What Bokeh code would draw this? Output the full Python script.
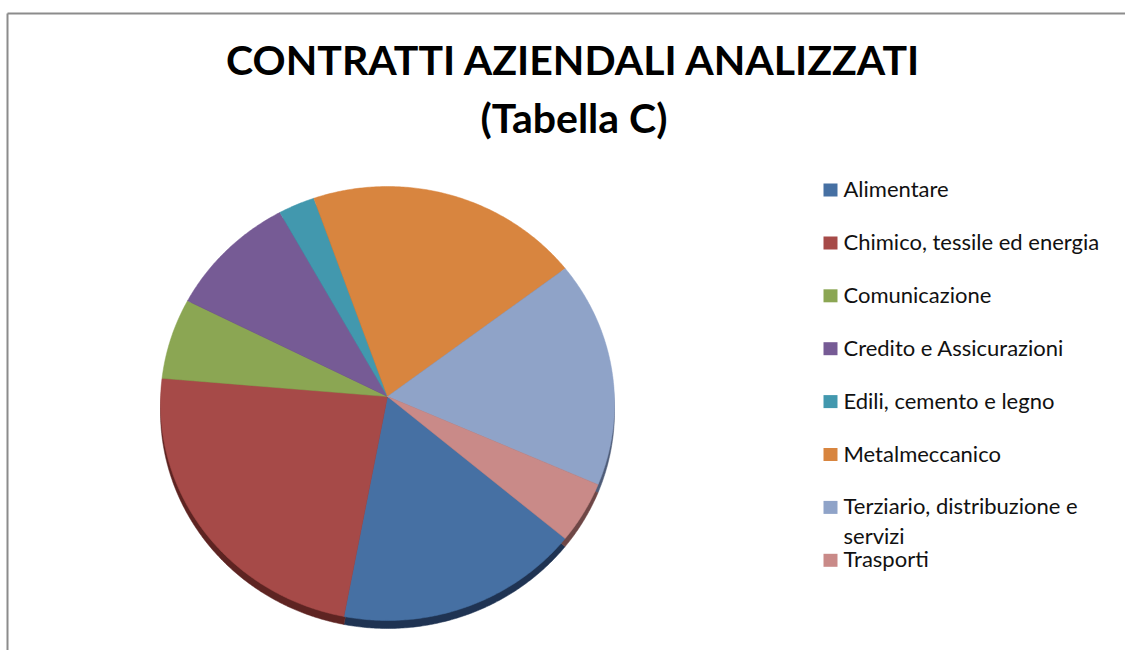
import numpy as np
from bokeh.plotting import figure
from bokeh.models import Range1d, ColumnDataSource
from bokeh.core.properties import value
from bokeh.embed import file_html
from bokeh.resources import INLINE

# ---- data ----
categories = ["Alimentare", "Chimico, tessile ed energia", "Comunicazione",
              "Credito e Assicurazioni", "Edili, cemento e legno", "Metalmeccanico",
              "Terziario, distribuzione e servizi", "Trasporti"]
values = [17.4, 23.8, 6.0, 9.3, 2.6, 19.6, 16.8, 4.6]
legend_lines = [["Alimentare"], ["Chimico, tessile  ed  energia"], ["Comunicazione"],
                ["Credito e Assicurazioni"], ["Edili, cemento e legno"], ["Metalmeccanico"],
                ["Terziario, distribuzione  e", "servizi"], ["Trasporti"]]
title_lines = ["CONTRATTI AZIENDALI ANALIZZATI", "(Tabella C)"]

# ---- style ----
face_colors = ["#4670A3", "#A64A48", "#8BA653", "#765B95", "#4298AE", "#D8853F", "#8FA3C8", "#C98A88"]
side_colors = ["#1F3352", "#5E2422", "#4A5C2A", "#3E2F52", "#1F5261", "#7A4620", "#4E5C78", "#6E4746"]

W, H = 1125, 650
p = figure(width=W, height=H, output_backend="svg", toolbar_location=None,
           x_range=Range1d(0, W), y_range=Range1d(H, 0), min_border=0)
p.axis.visible = False
p.grid.visible = False
p.outline_line_color = None
p.background_fill_color = "white"

# border of chart area
p.line(x=[7, 7], y=[H, 13], line_color="#8C8C8C", line_width=2)
p.line(x=[7, W], y=[13, 13], line_color="#8C8C8C", line_width=2)

# pie geometry (pixel-like coordinates)
cx, cy = 387.0, 403.0      # ellipse centre
ax_, ay_ = 387.0, 396.0    # apex where slices meet
rx, ry = 227.0, 217.0
depth = 8.0
start = 38.5  # degrees, screen clockwise from east

vals = np.array(values, dtype=float)
ang = np.concatenate([[0.0], np.cumsum(vals / vals.sum() * 360.0)]) + start

def slice_shape(a0, a1, dy=0.0):
    t = np.radians(np.linspace(a0, a1, max(int(abs(a1 - a0)) * 2 + 2, 4)))
    xs = [ax_] + list(cx + rx * np.cos(t)) + [ax_]
    ys = [ay_ + dy] + list(cy + dy + ry * np.sin(t)) + [ay_ + dy]
    return xs, ys

side_xs, side_ys, top_xs, top_ys = [], [], [], []
for i in range(len(vals)):
    xs, ys = slice_shape(ang[i], ang[i + 1], depth)
    side_xs.append(xs); side_ys.append(ys)
    xs, ys = slice_shape(ang[i], ang[i + 1])
    top_xs.append(xs); top_ys.append(ys)

p.patches(xs="xs", ys="ys", fill_color="c", line_color="c", line_width=0.5,
          source=ColumnDataSource(dict(xs=side_xs, ys=side_ys, c=side_colors)))
p.patches(xs="xs", ys="ys", fill_color="c", line_color="c", line_width=0.5,
          source=ColumnDataSource(dict(xs=top_xs, ys=top_ys, c=face_colors)))

# title
p.text(x=[573.5, 573.5], y=[59, 117], text=title_lines, text_align="center",
       text_baseline="alphabetic", text_font=value("Lato"), text_font_style="bold",
       text_font_size="41px", text_color="black")

# legend
row0, row_step = 189.5, 52.9
sq_x, txt_x = 830.0, 843.0
sq_y, tx, ty, tt = [], [], [], []
for i, lines in enumerate(legend_lines):
    yc = row0 + i * row_step
    sq_y.append(yc)
    for j, ln in enumerate(lines):
        tx.append(txt_x); ty.append(yc - 1.5 + j * 30); tt.append(ln)
p.rect(x=[sq_x] * len(sq_y), y=sq_y, width=14, height=13, fill_color=face_colors,
       line_color=None)
p.text(x=tx, y=ty, text=tt, text_align="left", text_baseline="alphabetic",
       text_font=value("Lato"), text_font_size="22px", text_color="#111111")

open("out.html", "w").write(file_html(p, INLINE))
